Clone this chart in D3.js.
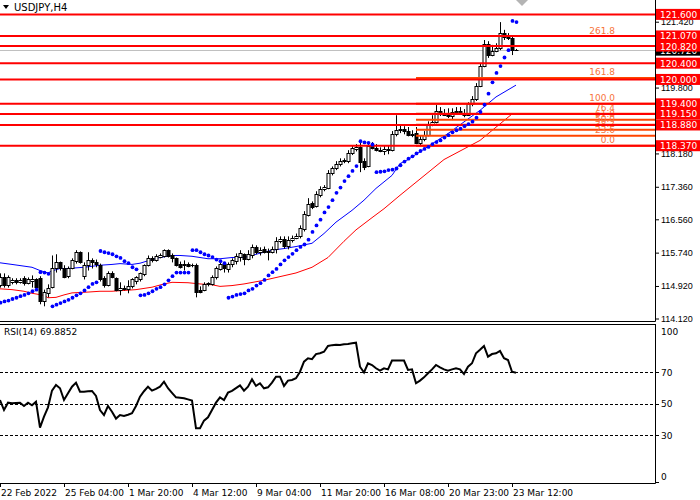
<!DOCTYPE html>
<html>
<head>
<meta charset="utf-8">
<script src="https://cdn.jsdelivr.net/npm/d3@7"></script>
<style>
  body { margin: 0; background: #fff; }
  svg { display: block; font-family: Tahoma, 'DejaVu Sans', sans-serif; }
</style>
</head>
<body>
<div id="chart"></div>
<script>
// USDJPY H4 candles, 130 bars
const opens = [
  114.93, 115.13, 114.93, 115.01, 115.06, 115.01, 115.11, 114.98, 115.03, 115.08,
  115.11, 114.54, 114.76, 114.88, 115.35, 115.50, 115.35, 115.16, 115.35, 115.52,
  115.75, 115.16, 115.45, 115.55, 115.50, 115.43, 115.11, 114.93, 115.23, 115.11,
  114.81, 114.88, 114.86, 114.91, 115.03, 115.08, 115.20, 115.43, 115.60, 115.55,
  115.62, 115.65, 115.80, 115.67, 115.60, 115.47, 115.43, 115.45, 115.43, 115.43,
  114.83, 114.83, 114.96, 114.96, 115.13, 115.35, 115.45, 115.35, 115.45, 115.52,
  115.62, 115.70, 115.57, 115.67, 115.87, 115.75, 115.82, 115.75, 115.77, 115.82,
  116.02, 116.07, 115.89, 116.04, 116.09, 116.14, 116.31, 116.66, 116.95, 116.88,
  117.15, 117.30, 117.32, 117.69, 117.82, 117.91, 117.99, 117.99, 118.18, 118.28,
  118.33, 117.99, 117.86, 118.36, 118.31, 118.26, 118.23, 118.28, 118.26, 118.65,
  118.75, 118.78, 118.73, 118.63, 118.68, 118.43, 118.53, 118.63, 118.90, 118.95,
  119.22, 119.15, 119.12, 119.10, 119.19, 119.22, 119.17, 119.12, 119.39, 119.52,
  119.84, 120.33, 120.87, 120.60, 120.70, 120.77, 121.14, 121.04, 121.02, 120.72
]
const highs = [
  115.23, 115.23, 115.18, 115.11, 115.11, 115.11, 115.16, 115.13, 115.18, 115.11,
  115.16, 114.83, 114.96, 115.67, 115.70, 115.52, 115.43, 115.40, 115.60, 115.80,
  115.77, 115.50, 115.75, 115.60, 115.57, 115.47, 115.16, 115.28, 115.28, 115.13,
  115.01, 114.93, 115.06, 115.11, 115.16, 115.25, 115.45, 115.67, 115.65, 115.70,
  115.72, 115.82, 115.82, 115.72, 115.62, 115.52, 115.55, 115.50, 115.47, 115.47,
  114.91, 115.01, 115.01, 115.18, 115.40, 115.50, 115.47, 115.50, 115.60, 115.72,
  115.80, 115.72, 115.80, 115.94, 115.92, 115.87, 115.89, 115.84, 115.89, 116.12,
  116.14, 116.14, 116.14, 116.16, 116.21, 116.41, 116.76, 117.08, 117.00, 117.25,
  117.37, 117.40, 117.77, 117.86, 117.99, 118.06, 118.06, 118.26, 118.38, 118.41,
  118.46, 118.06, 118.41, 118.46, 118.41, 118.33, 118.36, 118.38, 118.73, 119.12,
  118.87, 118.85, 118.83, 118.75, 118.83, 118.63, 118.73, 118.97, 119.12, 119.37,
  119.32, 119.27, 119.29, 119.29, 119.32, 119.32, 119.27, 119.44, 119.59, 119.91,
  120.40, 120.97, 120.94, 120.85, 120.89, 121.41, 121.22, 121.14, 121.07, 120.75
]
const lows = [
  114.88, 114.88, 114.88, 114.96, 114.96, 114.98, 114.93, 114.96, 114.88, 114.86,
  114.47, 114.42, 114.64, 114.86, 115.25, 115.30, 115.11, 115.11, 115.33, 115.47,
  115.47, 115.08, 115.30, 115.35, 115.38, 115.03, 114.88, 114.91, 115.11, 114.79,
  114.69, 114.81, 114.74, 114.86, 114.96, 115.03, 115.16, 115.40, 115.50, 115.52,
  115.60, 115.62, 115.62, 115.50, 115.40, 115.35, 115.30, 115.38, 115.38, 114.64,
  114.74, 114.79, 114.91, 114.93, 115.08, 115.30, 115.25, 115.25, 115.38, 115.45,
  115.52, 115.43, 115.55, 115.60, 115.70, 115.67, 115.72, 115.55, 115.72, 115.72,
  115.97, 115.84, 115.82, 115.99, 116.07, 116.09, 116.26, 116.63, 116.81, 116.85,
  117.10, 117.25, 117.30, 117.64, 117.77, 117.86, 117.94, 117.94, 118.14, 118.23,
  117.72, 117.77, 117.84, 118.28, 118.23, 118.21, 118.14, 118.16, 118.23, 118.60,
  118.68, 118.65, 118.60, 118.58, 118.41, 118.38, 118.48, 118.60, 118.85, 118.92,
  119.10, 119.10, 119.05, 119.00, 119.17, 119.17, 119.07, 119.10, 119.34, 119.47,
  119.81, 120.30, 120.53, 120.57, 120.67, 120.72, 120.97, 120.97, 120.60, 120.70
]
const closes = [
  115.13, 114.93, 115.13, 115.06, 115.01, 115.06, 114.98, 115.08, 115.08, 114.88,
  114.54, 114.76, 114.88, 115.35, 115.50, 115.35, 115.13, 115.35, 115.55, 115.75,
  115.50, 115.43, 115.57, 115.50, 115.45, 115.08, 114.93, 115.23, 115.13, 114.81,
  114.86, 114.86, 114.93, 115.08, 115.13, 115.23, 115.43, 115.60, 115.55, 115.65,
  115.67, 115.80, 115.65, 115.60, 115.43, 115.40, 115.45, 115.40, 115.42, 114.76,
  114.79, 114.98, 114.99, 115.13, 115.35, 115.47, 115.35, 115.47, 115.55, 115.65,
  115.72, 115.57, 115.70, 115.87, 115.75, 115.80, 115.75, 115.77, 115.84, 116.02,
  116.07, 115.89, 116.04, 116.09, 116.14, 116.34, 116.68, 116.93, 116.85, 117.18,
  117.30, 117.35, 117.69, 117.82, 117.91, 117.99, 118.01, 118.18, 118.31, 118.33,
  117.96, 117.84, 118.36, 118.31, 118.26, 118.23, 118.28, 118.26, 118.65, 118.75,
  118.78, 118.73, 118.63, 118.65, 118.43, 118.53, 118.63, 118.90, 118.95, 119.22,
  119.15, 119.12, 119.10, 119.19, 119.22, 119.17, 119.12, 119.39, 119.52, 119.84,
  120.33, 120.87, 120.60, 120.70, 120.77, 121.14, 121.04, 121.02, 120.72, 120.72
]

// parabolic SAR, one dot per bar
const sar = [
  114.51, 114.54, 114.56, 114.60, 114.63, 114.67, 114.70, 114.74, 114.79, 114.83,
  115.26, 115.25, 115.22, 114.42, 114.46, 114.50, 114.54, 114.58, 114.63, 114.69,
  114.74, 114.81, 114.89, 114.97, 115.01, 115.78, 115.75, 115.73, 115.70, 115.65,
  115.61, 115.53, 115.48, 115.38, 115.33, 114.69, 114.70, 114.74, 114.79, 114.85,
  114.89, 114.96, 115.06, 115.16, 115.25, 115.25, 115.25, 115.25, 115.80, 115.80,
  115.75, 115.70, 115.67, 115.63, 115.57, 115.53, 115.48, 114.63, 114.66, 114.70,
  114.72, 114.74, 114.81, 114.85, 114.93, 114.99, 115.07, 115.18, 115.26, 115.34,
  115.45, 115.55, 115.63, 115.71, 115.80, 115.88, 115.94, 116.06, 116.25, 116.41,
  116.55, 116.73, 116.86, 117.03, 117.21, 117.34, 117.50, 117.62, 117.75, 117.87,
  118.48, 118.45, 118.44, 118.40, 117.72, 117.73, 117.74, 117.77, 117.78, 117.81,
  117.89, 117.98, 118.05, 118.11, 118.18, 118.24, 118.29, 118.34, 118.41, 118.46,
  118.50, 118.57, 118.63, 118.70, 118.75, 118.79, 118.85, 118.90, 118.96, 119.06,
  119.20, 119.38, 119.65, 119.93, 120.16, 120.33, 120.54, 120.72, 121.44, 121.41
]

// moving averages, [bar, price]
const maBlue = [
  [0, 115.49], [3, 115.45], [8, 115.38], [10, 115.30], [12, 115.24], [13, 115.29],
  [15, 115.35], [17, 115.35], [21, 115.38], [25, 115.43], [28, 115.45], [30, 115.47],
  [33, 115.45], [35, 115.48], [38, 115.57], [40, 115.62], [43, 115.67], [45, 115.67],
  [48, 115.65], [52, 115.59], [55, 115.59], [58, 115.62], [61, 115.62], [64, 115.70],
  [68, 115.80], [71, 115.84], [74, 115.89], [78, 115.97], [81, 116.21], [84, 116.49],
  [88, 116.78], [91, 117.03], [94, 117.32], [98, 117.64], [100, 117.93], [102, 118.03],
  [112, 118.67], [120, 119.24], [124, 119.57], [129, 119.86]
]
const maRed = [
  [0, 114.85], [3, 114.83], [6, 114.79], [8, 114.74], [11, 114.69], [12, 114.63],
  [14, 114.64], [16, 114.70], [18, 114.75], [22, 114.77], [25, 114.79], [28, 114.79],
  [31, 114.81], [34, 114.83], [38, 114.89], [41, 114.97], [43, 115.01], [47, 115.00],
  [50, 114.97], [53, 114.95], [55, 114.91], [58, 114.93], [61, 114.97], [66, 115.06],
  [74, 115.24], [78, 115.38], [82, 115.62], [86, 116.02], [89, 116.30], [93, 116.60],
  [96, 116.82], [100, 117.15], [111, 118.03], [120, 118.50], [128, 119.15]
]

// RSI(14)
const rsi = [
  52.4, 46, 50.7, 50.3, 50.5, 50.7, 48.6, 50.7, 49, 51.3,
  34.7, 41.7, 47.7, 58.4, 62, 59.9, 52.4, 56.7, 60.9, 63.5,
  57.7, 57.7, 58, 58.2, 55, 46, 42.8, 48.6, 44.9, 40.5,
  42.8, 42.2, 43, 43.9, 48.6, 54.5, 58, 60.9, 58.4, 59.5,
  60.9, 64.1, 59.9, 57, 54.1, 53.8, 53.5, 52.8, 52, 34.3,
  34.3, 39.2, 41.3, 46, 50.7, 54.1, 52.4, 57.1, 58.2, 60,
  61.8, 58.4, 60.9, 65.6, 61.4, 63.1, 59.9, 60.5, 63.5, 67.3,
  67.3, 61.4, 64.8, 65.2, 66.3, 70.5, 76.9, 79.1, 78.5, 81.8,
  82.3, 83.3, 87, 87.5, 87.8, 87.6, 88, 88.2, 88.7, 89.1,
  73.7, 70, 75.9, 74.8, 72.7, 71.2, 72.7, 72, 77.6, 77.6,
  77.6, 77.6, 71.6, 72, 63.1, 64.8, 66.9, 69.5, 72, 74.8,
  73.3, 72, 71.2, 72, 72.7, 72, 69, 73.7, 75.9, 82.3,
  84.5, 87, 80.1, 81.8, 82.3, 83.8, 79.1, 78, 70.5, 69.8852
]

// horizontal support/resistance levels
const levels = [121.600, 121.070, 120.820, 120.400, 120.000, 119.400, 119.150, 118.880, 118.370]
const lastPrice = 120.720

// fibonacci retracement between 118.370 and 119.400
const fibLow = 118.370
const fibHigh = 119.400
const fibStartBar = 104
const fibLevels = [0, 23.6, 38.2, 50, 61.8, 76.4, 100, 161.8, 261.8]

// visible price ticks (119.000 and 120.620 sit under the level boxes)
const priceTicks = [114.12, 114.92, 115.74, 116.56, 117.36, 118.18, 119.8, 121.42]
const rsiTicks = [100, 70, 50, 30, 0]
const rsiDashed = [70, 50, 30]
const timeLabels = ['22 Feb 2022', '25 Feb 04:00', '1 Mar 20:00', '4 Mar 12:00', '9 Mar 04:00',
  '11 Mar 20:00', '16 Mar 08:00', '20 Mar 23:00', '23 Mar 12:00']
const timeBars = [0, 16, 32, 48, 64, 80, 96, 112, 128]

const width = 700
const height = 500
const axisX = 655

const svg = d3
  .select('#chart')
  .append('svg')
  .attr('width', width)
  .attr('height', height)

const xScale = d3.scaleLinear().domain([0, 129]).range([0, 516])
const yScale = d3.scaleLinear().domain([114.12, 121.954]).range([318.5, 0])
const rsiScale = d3.scaleLinear().domain([0, 100]).range([481.9, 325.6])

svg.append('clipPath').attr('id', 'clip-main')
  .append('rect').attr('x', 0).attr('y', 0).attr('width', axisX).attr('height', 321)
svg.append('clipPath').attr('id', 'clip-rsi')
  .append('rect').attr('x', 0).attr('y', 325).attr('width', axisX).attr('height', 158)

const main = svg.append('g').attr('clip-path', 'url(#clip-main)')

// price axis
const yAxis = d3.axisRight(yScale)
  .tickValues(priceTicks)
  .tickFormat(d3.format('.3f'))
  .tickSize(4)
  .tickPadding(2)
svg.append('g')
  .attr('class', 'axis')
  .attr('transform', 'translate(' + axisX + ',0)')
  .call(yAxis)
  .call(g => g.select('.domain').remove())

// frames
svg.append('line').attr('x1', axisX + 0.5).attr('x2', axisX + 0.5).attr('y1', 0).attr('y2', 321.5)
  .attr('stroke', '#000')
svg.append('line').attr('x1', 0).attr('x2', axisX + 0.5).attr('y1', 321.5).attr('y2', 321.5)
  .attr('stroke', '#000')
svg.append('line').attr('x1', 0).attr('x2', axisX + 0.5).attr('y1', 324.5).attr('y2', 324.5)
  .attr('stroke', '#000')
svg.append('line').attr('x1', axisX + 0.5).attr('x2', axisX + 0.5).attr('y1', 324).attr('y2', 483.5)
  .attr('stroke', '#000')
svg.append('line').attr('x1', 0).attr('x2', axisX + 0.5).attr('y1', 483.5).attr('y2', 483.5)
  .attr('stroke', '#000')

// current price line
main.append('line')
  .attr('x1', 0).attr('x2', axisX)
  .attr('y1', Math.round(yScale(lastPrice)) + 0.5).attr('y2', Math.round(yScale(lastPrice)) + 0.5)
  .attr('stroke', '#c0c0c0')

// moving averages
const maLine = d3.line().x(d => xScale(d[0])).y(d => yScale(d[1]))
main.append('path').datum(maRed).attr('d', maLine)
  .attr('fill', 'none').attr('stroke', '#ff0000').attr('stroke-width', 1)
main.append('path').datum(maBlue).attr('d', maLine)
  .attr('fill', 'none').attr('stroke', '#0000ff').attr('stroke-width', 1)

// candles
const bars = d3.range(opens.length)
const candle = main.selectAll('.candle').data(bars).enter().append('g').attr('class', 'candle')
candle.append('line')
  .attr('x1', i => Math.round(xScale(i)) + 0.5)
  .attr('x2', i => Math.round(xScale(i)) + 0.5)
  .attr('y1', i => yScale(highs[i]))
  .attr('y2', i => yScale(lows[i]))
  .attr('stroke', '#000')
candle.append('rect')
  .attr('x', i => Math.round(xScale(i)) - 1)
  .attr('width', 3)
  .attr('y', i => Math.round(yScale(Math.max(opens[i], closes[i]))) + 0.5)
  .attr('height', i => Math.max(0.01, Math.round(Math.abs(yScale(opens[i]) - yScale(closes[i])))))
  .attr('fill', i => (closes[i] >= opens[i] ? '#fff' : '#000'))
  .attr('stroke', '#000')
  .attr('stroke-width', 1)

// fibonacci (drawn under the red levels)
const fibPrice = l => fibLow + (fibHigh - fibLow) * l / 100
main.selectAll('.fib').data(fibLevels).enter().append('line')
  .attr('class', 'fib')
  .attr('x1', xScale(fibStartBar)).attr('x2', axisX)
  .attr('y1', d => yScale(fibPrice(d))).attr('y2', d => yScale(fibPrice(d)))
  .attr('stroke', '#ff4500').attr('stroke-width', 2)
main.selectAll('.fib-label').data(fibLevels).enter().append('text')
  .attr('class', 'fib-label')
  .attr('x', 615)
  .attr('y', d => yScale(fibPrice(d)) - 2.5)
  .attr('text-anchor', 'end')
  .attr('font-size', 9)
  .attr('fill', '#f8733a')
  .text(d => d.toFixed(1))

// horizontal levels
main.selectAll('.level').data(levels).enter().append('line')
  .attr('class', 'level')
  .attr('x1', 0).attr('x2', axisX)
  .attr('y1', d => yScale(d)).attr('y2', d => yScale(d))
  .attr('stroke', '#ff0000').attr('stroke-width', 2)

// parabolic SAR
main.selectAll('.sar').data(bars).enter().append('circle')
  .attr('class', 'sar')
  .attr('cx', i => xScale(i) + 0.5)
  .attr('cy', i => yScale(sar[i]))
  .attr('r', 1.9)
  .attr('fill', '#0000ff')

// shift marker
svg.append('path').attr('d', 'M516,0 L528,0 L522,6 Z').attr('fill', '#b4b4b4')

// title
svg.append('path').attr('d', 'M3,5 L9,5 L6,9 Z').attr('fill', '#000')
svg.append('text').attr('x', 14).attr('y', 11).attr('font-size', 10).attr('fill', '#000')
  .text('USDJPY,H4')

// price boxes on the axis
svg.append('rect').attr('x', 656).attr('y', yScale(lastPrice) - 5.5)
  .attr('width', 44).attr('height', 11).attr('fill', '#000')
svg.append('text').attr('x', 660).attr('y', yScale(lastPrice) + 3.5)
  .attr('font-size', 9).attr('fill', '#fff').text(lastPrice.toFixed(3))
const box = svg.selectAll('.lvl-box').data(levels).enter().append('g').attr('class', 'lvl-box')
box.append('rect')
  .attr('x', 656).attr('y', d => yScale(d) - 5.5)
  .attr('width', 44).attr('height', 11).attr('fill', '#ff0000')
box.append('text')
  .attr('x', 660).attr('y', d => yScale(d) + 3.5)
  .attr('font-size', 9).attr('fill', '#fff')
  .text(d => d.toFixed(3))

// RSI panel
const rsiG = svg.append('g').attr('clip-path', 'url(#clip-rsi)')
rsiG.selectAll('.rsi-level').data(rsiDashed).enter().append('line')
  .attr('x1', 0).attr('x2', axisX)
  .attr('y1', d => Math.round(rsiScale(d)) + 0.5).attr('y2', d => Math.round(rsiScale(d)) + 0.5)
  .attr('stroke', '#000').attr('stroke-dasharray', '3,2')
rsiG.append('path').datum(rsi)
  .attr('d', d3.line().x((d, i) => xScale(i)).y(d => rsiScale(d)))
  .attr('fill', 'none').attr('stroke', '#000').attr('stroke-width', 2)
svg.append('text').attr('x', 4).attr('y', 335).attr('font-size', 9).attr('fill', '#000')
  .text('RSI(14) ' + rsi[rsi.length - 1].toFixed(4))

const rsiAxis = svg.append('g')
rsiAxis.selectAll('line').data(rsiTicks.filter(d => d !== 100)).enter().append('line')
  .attr('x1', axisX).attr('x2', axisX + 4)
  .attr('y1', d => Math.round(rsiScale(d)) + 0.5).attr('y2', d => Math.round(rsiScale(d)) + 0.5)
  .attr('stroke', '#000')
rsiAxis.selectAll('text').data(rsiTicks).enter().append('text')
  .attr('x', axisX + 6)
  .attr('y', d => rsiScale(d) + (d === 100 ? 9 : d === 0 ? -2 : 3.5))
  .attr('font-size', 9)
  .attr('fill', '#000')
  .text(d => d)

// time axis
const tx = svg.append('g')
tx.selectAll('line').data(timeBars).enter().append('line')
  .attr('x1', i => Math.round(xScale(i)) + 0.5).attr('x2', i => Math.round(xScale(i)) + 0.5)
  .attr('y1', 483).attr('y2', 487)
  .attr('stroke', '#000')
tx.selectAll('text').data(timeBars).enter().append('text')
  .attr('x', i => xScale(i) + 1)
  .attr('y', 496)
  .attr('font-size', 9)
  .text((d, k) => timeLabels[k])

svg.selectAll('.axis text').attr('font-size', 9).attr('fill', '#000')
svg.selectAll('.axis .tick line').attr('stroke', '#000')
</script>
</body>
</html>
